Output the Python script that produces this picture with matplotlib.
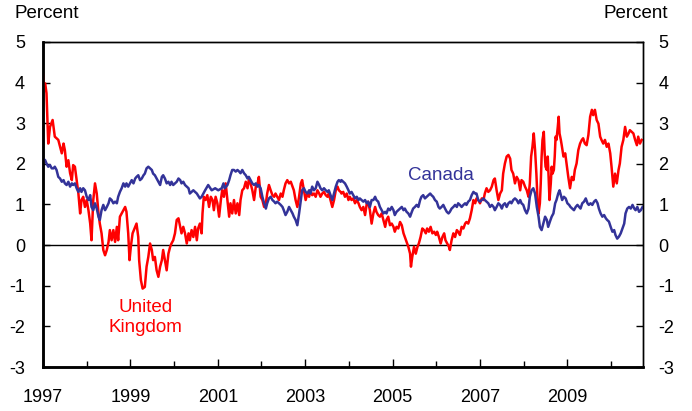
import matplotlib
matplotlib.use("Agg")
import matplotlib.pyplot as plt

plt.rcParams['font.family'] = ['Liberation Sans', 'DejaVu Sans']
plt.rcParams['axes.unicode_minus'] = False

uk_dates = [
    1997.00, 1997.01, 1997.05, 1997.08, 1997.12, 1997.16, 1997.22, 1997.27, 1997.35, 1997.43,
    1997.47, 1997.50, 1997.54, 1997.58, 1997.62, 1997.66, 1997.69, 1997.73, 1997.77, 1997.81,
    1997.85, 1997.88, 1997.92, 1997.96, 1998.00, 1998.04, 1998.08, 1998.11, 1998.15, 1998.19,
    1998.23, 1998.27, 1998.30, 1998.34, 1998.38, 1998.42, 1998.46, 1998.50, 1998.53, 1998.57,
    1998.61, 1998.65, 1998.69, 1998.72, 1998.76, 1998.80, 1998.84, 1998.88, 1998.91, 1998.95,
    1998.98, 1999.01, 1999.05, 1999.11, 1999.14, 1999.18, 1999.20, 1999.24, 1999.28, 1999.33,
    1999.37, 1999.41, 1999.45, 1999.49, 1999.52, 1999.56, 1999.60, 1999.64, 1999.68, 1999.72,
    1999.75, 1999.79, 1999.83, 1999.87, 1999.91, 1999.94, 1999.98, 2000.02, 2000.06, 2000.10,
    2000.14, 2000.17, 2000.21, 2000.25, 2000.29, 2000.33, 2000.36,
    2000.40, 2000.44, 2000.48, 2000.52, 2000.55, 2000.59, 2000.63, 2000.65, 2000.68, 2000.72,
    2000.76, 2000.80, 2000.84, 2000.88, 2000.91, 2000.95, 2000.99, 2001.03, 2001.07, 2001.10,
    2001.14, 2001.18, 2001.22, 2001.26, 2001.29, 2001.33, 2001.37, 2001.41, 2001.45, 2001.49,
    2001.52, 2001.56, 2001.60, 2001.64, 2001.68, 2001.71, 2001.75, 2001.79, 2001.83, 2001.87,
    2001.91, 2001.94, 2001.98, 2002.02, 2002.06, 2002.10, 2002.13, 2002.17, 2002.21, 2002.25,
    2002.29, 2002.32, 2002.36, 2002.40, 2002.44, 2002.48, 2002.51, 2002.55, 2002.59, 2002.63,
    2002.67, 2002.71, 2002.74, 2002.78, 2002.82, 2002.86, 2002.90, 2002.93, 2002.97, 2003.01,
    2003.05, 2003.09, 2003.12, 2003.16, 2003.20, 2003.24, 2003.28, 2003.32, 2003.35, 2003.39,
    2003.43, 2003.47, 2003.51, 2003.54, 2003.58, 2003.62, 2003.66, 2003.70, 2003.74, 2003.77,
    2003.81,
    2003.83, 2003.87, 2003.91, 2003.95, 2003.99, 2004.02, 2004.06, 2004.10, 2004.14, 2004.18,
    2004.22, 2004.25, 2004.29, 2004.33, 2004.37, 2004.41, 2004.44, 2004.48, 2004.52, 2004.56,
    2004.60, 2004.63, 2004.67, 2004.71, 2004.75, 2004.79, 2004.83, 2004.86, 2004.90, 2004.94,
    2004.98, 2005.02, 2005.05, 2005.09, 2005.13, 2005.17, 2005.21, 2005.25, 2005.28, 2005.32,
    2005.36, 2005.40, 2005.42, 2005.45, 2005.49, 2005.53, 2005.57, 2005.60, 2005.64, 2005.68,
    2005.72, 2005.76, 2005.79, 2005.83, 2005.87, 2005.91, 2005.95, 2005.99, 2006.02, 2006.06,
    2006.10, 2006.14, 2006.18, 2006.21, 2006.25, 2006.29, 2006.31, 2006.35, 2006.39, 2006.43,
    2006.47, 2006.50, 2006.54, 2006.58, 2006.62, 2006.66, 2006.69, 2006.73, 2006.77, 2006.81,
    2006.85, 2006.89, 2006.92, 2006.96, 2007.00, 2007.04, 2007.08, 2007.11, 2007.15, 2007.19,
    2007.23, 2007.27, 2007.31, 2007.34, 2007.38, 2007.42, 2007.46, 2007.50, 2007.53, 2007.57,
    2007.61, 2007.65, 2007.69, 2007.72, 2007.76, 2007.80, 2007.84, 2007.88, 2007.92, 2007.95,
    2007.99, 2008.03, 2008.07, 2008.11, 2008.14, 2008.17, 2008.20, 2008.23, 2008.26, 2008.29,
    2008.32, 2008.34, 2008.37, 2008.39, 2008.41, 2008.43, 2008.46, 2008.48, 2008.50, 2008.53,
    2008.55, 2008.57, 2008.59, 2008.62, 2008.64, 2008.66, 2008.69, 2008.71, 2008.73, 2008.75,
    2008.78, 2008.80, 2008.82, 2008.85, 2008.87, 2008.91, 2008.95, 2008.98, 2009.02, 2009.06,
    2009.10, 2009.14, 2009.17, 2009.21, 2009.25, 2009.29, 2009.33, 2009.36, 2009.40, 2009.44,
    2009.48, 2009.52, 2009.56, 2009.59, 2009.63, 2009.67, 2009.71, 2009.75, 2009.78, 2009.82,
    2009.86, 2009.90, 2009.94, 2009.98, 2010.01, 2010.05, 2010.09, 2010.13, 2010.17, 2010.20,
    2010.24, 2010.28, 2010.32, 2010.36, 2010.40, 2010.43, 2010.47, 2010.51, 2010.55, 2010.59,
    2010.62, 2010.66, 2010.70,
]
uk_values = [
    4.20, 3.95, 3.98, 3.74, 2.50, 2.91, 3.08, 2.67, 2.59, 2.26,
    2.50, 2.34, 1.93, 2.09, 1.77, 1.60, 1.97, 1.93, 1.60, 1.27,
    0.78, 1.11, 1.19, 0.94, 1.11, 0.86, 0.53, 0.12, 1.11, 1.52,
    1.27, 0.78, 0.53, 0.29, -0.12, -0.25, -0.12, 0.08, 0.37, 0.12,
    0.37, 0.08, 0.45, 0.12, 0.70, 0.78, 0.86, 0.94, 0.82, 0.29,
    -0.37, -0.04, 0.29, 0.45, 0.53, 0.20, -0.37, -0.86, -1.07, -1.03,
    -0.53, -0.29, 0.04, -0.12, -0.37, -0.29, -0.62, -0.78, -0.53, -0.37,
    -0.12, -0.37, -0.62, -0.21, -0.04, 0.04, 0.12, 0.29, 0.62, 0.66,
    0.45, 0.29, 0.45, 0.29, 0.04, 0.29, 0.12,
    0.37, 0.20, 0.45, 0.12, 0.41, 0.53, 0.29, 0.78, 1.19, 1.11,
    1.23, 0.94, 1.19, 1.11, 0.86, 1.19, 1.03, 0.70, 1.11, 1.35,
    1.19, 1.52, 1.11, 0.70, 1.03, 0.78, 1.11, 0.78, 1.03, 0.74,
    1.11, 1.35, 1.40, 1.56, 1.40, 1.60, 1.52, 1.35, 1.11, 1.44,
    1.52, 1.68, 1.19, 1.11, 0.94, 1.03, 1.27, 1.48, 1.35, 1.23,
    1.19, 1.27, 1.19, 1.11, 1.27, 1.19, 1.35, 1.52, 1.60, 1.52,
    1.56, 1.44, 1.35, 1.11, 0.94, 1.19, 1.52, 1.60, 1.35, 1.11,
    1.27, 1.19, 1.35, 1.23, 1.27, 1.19, 1.35, 1.27, 1.19, 1.27,
    1.31, 1.23, 1.19, 1.27, 1.11, 0.94, 1.11, 1.35, 1.44, 1.35,
    1.31,
    1.27, 1.31, 1.19, 1.27, 1.11, 1.19, 1.11, 1.15, 1.03, 1.11,
    1.03, 0.94, 0.86, 0.94, 0.74, 1.03, 1.07, 0.86, 0.53, 0.78,
    0.94, 0.82, 0.74, 0.70, 0.78, 0.62, 0.45, 0.62, 0.70, 0.49,
    0.53, 0.45, 0.33, 0.45, 0.41, 0.57, 0.49, 0.29, 0.20, 0.08,
    -0.04, -0.21, -0.53, -0.29, -0.04, -0.21, -0.04, 0.04, 0.20, 0.41,
    0.37, 0.29, 0.41, 0.33, 0.45, 0.29, 0.33, 0.25, 0.33, 0.20,
    0.04, 0.20, 0.29, 0.12, 0.04, -0.04, -0.12, 0.12, 0.29, 0.20,
    0.37, 0.33, 0.25, 0.45, 0.41, 0.53, 0.57, 0.53, 0.66, 0.86,
    1.11, 1.03, 1.15, 1.11, 1.03, 1.15, 1.11, 1.27, 1.40, 1.31,
    1.35, 1.44, 1.60, 1.64, 1.35, 1.11, 1.27, 1.35, 1.76, 2.01,
    2.18, 2.22, 2.13, 1.85, 1.76, 1.52, 1.68, 1.60, 1.35, 1.60,
    1.56, 1.44, 1.35, 1.19, 1.52, 2.18, 2.42, 2.75, 2.34, 1.76,
    1.03, 0.78, 1.03, 1.52, 2.18, 2.59, 2.79, 2.26, 1.93, 1.85,
    2.18, 1.68, 1.11, 1.52, 1.93, 1.76, 1.85, 2.18, 2.67, 2.59,
    2.91, 3.16, 2.75, 2.59, 2.46, 2.18, 2.26, 2.01, 1.68, 1.40,
    1.68, 1.60, 1.85, 2.01, 2.34, 2.50, 2.59, 2.63, 2.50, 2.46,
    2.71, 3.16, 3.33, 3.20, 3.33, 3.08, 2.99, 2.67, 2.59, 2.50,
    2.59, 2.42, 2.50, 2.26, 1.93, 1.44, 1.76, 1.52, 1.85, 2.01,
    2.42, 2.59, 2.91, 2.67, 2.75, 2.83, 2.79, 2.75, 2.59, 2.46,
    2.67, 2.50, 2.59,
]

ca_dates = [
    1997.00, 1997.05, 1997.08, 1997.12, 1997.16, 1997.20, 1997.24, 1997.27, 1997.31, 1997.35,
    1997.39, 1997.43, 1997.47, 1997.50, 1997.54, 1997.58, 1997.62, 1997.66, 1997.69, 1997.73,
    1997.77, 1997.81, 1997.85, 1997.88, 1997.92, 1997.96, 1998.00, 1998.04, 1998.08, 1998.11,
    1998.15, 1998.19, 1998.23, 1998.27, 1998.30, 1998.34, 1998.38, 1998.42, 1998.46, 1998.50,
    1998.53, 1998.57, 1998.61, 1998.65, 1998.69, 1998.72, 1998.76, 1998.80, 1998.84, 1998.88,
    1998.91, 1998.95, 1998.99, 1999.03, 1999.07, 1999.11, 1999.14, 1999.18, 1999.22, 1999.26,
    1999.30, 1999.33, 1999.37, 1999.41, 1999.45, 1999.49, 1999.52, 1999.56, 1999.60, 1999.64,
    1999.68, 1999.72, 1999.75, 1999.79, 1999.83, 1999.87, 1999.91, 1999.94, 1999.98, 2000.02,
    2000.06, 2000.10, 2000.14, 2000.17, 2000.21, 2000.25, 2000.29, 2000.33, 2000.36,
    2000.44, 2000.52, 2000.59, 2000.63, 2000.71, 2000.78, 2000.86, 2000.94, 2001.01, 2001.09,
    2001.13, 2001.16, 2001.22, 2001.26, 2001.29, 2001.33, 2001.37, 2001.41, 2001.45, 2001.49,
    2001.52, 2001.56, 2001.60, 2001.64, 2001.68, 2001.71, 2001.75, 2001.79, 2001.83, 2001.87,
    2001.91, 2001.94, 2001.98, 2002.02, 2002.06, 2002.10, 2002.13, 2002.17, 2002.21, 2002.25,
    2002.29, 2002.32, 2002.36, 2002.40, 2002.44, 2002.48, 2002.51, 2002.55, 2002.59, 2002.63,
    2002.67, 2002.71, 2002.74, 2002.78, 2002.82, 2002.86, 2002.90, 2002.93, 2002.97, 2003.01,
    2003.05, 2003.09, 2003.12, 2003.16, 2003.20, 2003.24, 2003.28, 2003.32, 2003.35, 2003.39,
    2003.43, 2003.47, 2003.51, 2003.54, 2003.58, 2003.62, 2003.66, 2003.70, 2003.74, 2003.77,
    2003.81,
    2003.83, 2003.87, 2003.91, 2003.95, 2003.99, 2004.02, 2004.06, 2004.10, 2004.14, 2004.18,
    2004.22, 2004.25, 2004.29, 2004.33, 2004.37, 2004.41, 2004.44, 2004.48, 2004.52, 2004.56,
    2004.60, 2004.63, 2004.67, 2004.71, 2004.75, 2004.79, 2004.83, 2004.86, 2004.90, 2004.94,
    2004.98, 2005.02, 2005.05, 2005.09, 2005.13, 2005.17, 2005.21, 2005.25, 2005.28, 2005.32,
    2005.36, 2005.40, 2005.44, 2005.47, 2005.51, 2005.55, 2005.59, 2005.63, 2005.66, 2005.70,
    2005.74, 2005.78, 2005.82, 2005.86, 2005.89, 2005.93, 2005.97, 2006.01, 2006.05, 2006.08,
    2006.12, 2006.16, 2006.20, 2006.24, 2006.28, 2006.31, 2006.35, 2006.39, 2006.43, 2006.47,
    2006.50, 2006.54, 2006.58, 2006.62, 2006.66, 2006.69, 2006.73, 2006.77, 2006.81, 2006.85,
    2006.89, 2006.92, 2006.96, 2007.00, 2007.04, 2007.08, 2007.11, 2007.15, 2007.19,
    2007.23, 2007.27, 2007.31, 2007.34, 2007.38, 2007.42, 2007.46, 2007.50, 2007.53, 2007.57,
    2007.61, 2007.65, 2007.69, 2007.72, 2007.76, 2007.80, 2007.84, 2007.88, 2007.92, 2007.95,
    2007.99, 2008.03, 2008.07, 2008.11, 2008.14, 2008.18, 2008.22, 2008.26, 2008.30, 2008.34,
    2008.37, 2008.41, 2008.45, 2008.49, 2008.53, 2008.56, 2008.60, 2008.64, 2008.68, 2008.72,
    2008.75, 2008.79, 2008.82, 2008.85, 2008.88, 2008.92, 2008.96, 2009.00, 2009.04, 2009.07,
    2009.11, 2009.15, 2009.19, 2009.23, 2009.27, 2009.30, 2009.34, 2009.38, 2009.42, 2009.46,
    2009.49, 2009.53, 2009.57, 2009.61, 2009.65, 2009.69, 2009.72, 2009.76, 2009.80, 2009.84,
    2009.88, 2009.91, 2009.95, 2009.99, 2010.03, 2010.07, 2010.10, 2010.14, 2010.18, 2010.22,
    2010.26, 2010.30, 2010.33, 2010.37, 2010.41, 2010.45, 2010.49, 2010.53, 2010.56, 2010.60,
    2010.64, 2010.68, 2010.72,
]
ca_values = [
    2.13, 2.09, 2.01, 1.93, 1.97, 1.89, 1.89, 1.93, 1.85, 1.68,
    1.64, 1.56, 1.60, 1.52, 1.48, 1.56, 1.44, 1.52, 1.48, 1.52,
    1.40, 1.31, 1.40, 1.31, 1.40, 1.35, 1.19, 1.11, 1.23, 0.94,
    0.86, 1.03, 0.90, 0.70, 0.62, 0.86, 0.99, 0.86, 0.94, 1.03,
    1.15, 1.11, 1.03, 1.07, 1.03, 1.19, 1.31, 1.40, 1.52, 1.44,
    1.52, 1.44, 1.52, 1.60, 1.52, 1.64, 1.68, 1.72, 1.60, 1.64,
    1.72, 1.76, 1.89, 1.93, 1.89, 1.85, 1.76, 1.72, 1.64, 1.56,
    1.48, 1.68, 1.72, 1.64, 1.52, 1.56, 1.48, 1.56, 1.48, 1.52,
    1.56, 1.64, 1.60, 1.52, 1.56, 1.48, 1.44, 1.40, 1.27,
    1.35, 1.27, 1.15, 1.19, 1.35, 1.48, 1.35, 1.40, 1.35, 1.40,
    1.52, 1.40, 1.48, 1.60, 1.72, 1.85, 1.85, 1.81, 1.85, 1.81,
    1.77, 1.85, 1.77, 1.72, 1.64, 1.68, 1.60, 1.52, 1.48, 1.52,
    1.44, 1.48, 1.40, 1.19, 1.03, 0.90, 1.03, 1.15, 1.19, 1.11,
    1.07, 1.03, 1.07, 1.03, 0.99, 0.94, 0.86, 0.74, 0.82, 0.94,
    0.86, 0.78, 0.70, 0.62, 0.49, 0.78, 1.11, 1.35, 1.40, 1.31,
    1.27, 1.35, 1.27, 1.44, 1.35, 1.40, 1.56, 1.48, 1.40, 1.35,
    1.40, 1.35, 1.31, 1.35, 1.23, 1.11, 1.27, 1.44, 1.56, 1.60,
    1.56,
    1.60, 1.56, 1.52, 1.44, 1.35, 1.27, 1.31, 1.23, 1.15, 1.19,
    1.11, 1.15, 1.11, 1.07, 1.11, 1.03, 1.07, 0.94, 1.11, 1.11,
    1.19, 1.11, 1.07, 0.94, 0.86, 0.78, 0.82, 0.78, 0.90, 0.86,
    0.94, 0.86, 0.74, 0.82, 0.86, 0.90, 0.94, 0.86, 0.90, 0.82,
    0.78, 0.70, 0.82, 0.90, 0.94, 0.99, 0.94, 1.11, 1.19, 1.23,
    1.15, 1.19, 1.23, 1.27, 1.23, 1.19, 1.11, 1.07, 0.94, 0.90,
    0.94, 0.99, 0.90, 0.82, 0.78, 0.82, 0.90, 0.94, 0.99, 0.94,
    1.03, 0.99, 0.94, 0.99, 1.03, 0.99, 1.07, 1.11, 1.23, 1.31,
    1.27, 1.27, 1.11, 1.07, 1.11, 1.15, 1.11, 1.07, 1.03,
    0.94, 0.99, 0.94, 0.86, 0.94, 1.03, 0.99, 0.90, 0.99, 1.03,
    0.94, 1.03, 1.07, 1.03, 1.11, 1.15, 1.11, 1.03, 1.11, 1.03,
    0.99, 0.86, 0.78, 0.90, 1.19, 1.35, 1.40, 1.27, 0.94, 0.70,
    0.45, 0.37, 0.53, 0.70, 0.62, 0.45, 0.58, 0.70, 0.78, 1.03,
    1.11, 1.27, 1.35, 1.23, 1.11, 1.19, 1.15, 1.03, 0.99, 0.94,
    0.90, 0.86, 0.94, 0.99, 0.94, 0.90, 1.03, 1.07, 1.15, 1.03,
    0.99, 1.03, 0.99, 1.07, 1.11, 1.03, 0.90, 0.78, 0.70, 0.74,
    0.66, 0.62, 0.58, 0.45, 0.33, 0.37, 0.25, 0.16, 0.21, 0.29,
    0.41, 0.53, 0.78, 0.90, 0.94, 0.90, 0.99, 0.90, 0.86, 0.94,
    0.82, 0.86, 0.94,
]

major_years = [1997, 1999, 2001, 2003, 2005, 2007, 2009]
minor_years = [1998, 2000, 2002, 2004, 2006, 2008, 2010]
y_ticks = [-3, -2, -1, 0, 1, 2, 3, 4, 5]

UK_COLOR = '#FF0000'
CA_COLOR = '#333399'

fig = plt.figure(figsize=(6.92, 4.11), dpi=100)
ax = fig.add_axes([43 / 692, 1 - 367 / 411, 600 / 692, 325 / 411])

ax.plot(uk_dates, uk_values, color=UK_COLOR, lw=1.8, zorder=3)
ax.plot(ca_dates, ca_values, color=CA_COLOR, lw=1.8, zorder=4)
ax.axhline(0, color='black', lw=1.0, zorder=2)

ax.set_xlim(1997, 2010.73)
ax.set_ylim(-3, 5)

ax.set_xticks(major_years)
ax.set_xticklabels([str(y) for y in major_years])
ax.set_xticks(minor_years, minor=True)
ax.tick_params(axis='x', which='major', direction='in', length=6, width=1,
               pad=16, labelsize=13)
ax.tick_params(axis='x', which='minor', direction='in', length=4, width=1)

ax.set_yticks(y_ticks)
ax.set_yticklabels([str(v) for v in y_ticks])
ax.tick_params(axis='y', direction='in', length=5, width=1, pad=13, labelsize=13)

ax2 = ax.twinx()
ax2.set_ylim(-3, 5)
ax2.set_yticks(y_ticks)
ax2.set_yticklabels([str(v) for v in y_ticks])
ax2.tick_params(axis='y', direction='in', length=5, width=1, pad=11, labelsize=13)

for a in (ax, ax2):
    a.spines['left'].set_linewidth(1.8)
    a.spines['bottom'].set_linewidth(1.8)
    a.spines['top'].set_linewidth(1.0)
    a.spines['right'].set_linewidth(1.0)

fig.text(15 / 692, 1 - 14 / 411, 'Percent', ha='left', va='center', fontsize=13.5)
fig.text(668 / 692, 1 - 14 / 411, 'Percent', ha='right', va='center', fontsize=13.5)

ax.text(1999.35, -1.78, 'United\nKingdom', color=UK_COLOR, ha='center', va='center',
        fontsize=13.5, linespacing=1.2)
ax.text(2006.11, 1.72, 'Canada', color=CA_COLOR, ha='center', va='center', fontsize=13.5)

fig.savefig('out.png', dpi=100)
